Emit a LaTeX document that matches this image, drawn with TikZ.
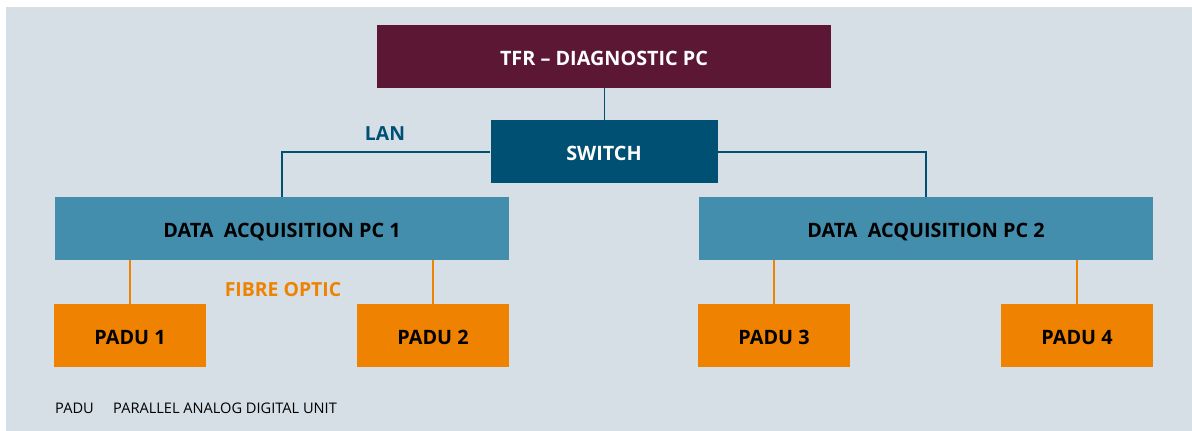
\documentclass[tikz,border=0pt]{standalone}
\usepackage{fontspec}
\setmainfont{Open Sans}
\usetikzlibrary{positioning}

\definecolor{bgpanel}{HTML}{D6DFE6}
\definecolor{tfrred}{HTML}{5C1735}
\definecolor{switchblue}{HTML}{005073}
\definecolor{daqblue}{HTML}{438DAD}
\definecolor{paduorange}{HTML}{EF8200}

\tikzset{
	box/.style={rectangle, minimum height=63pt, inner sep=0pt, text height=18pt, text depth=0pt, font=\fontsize{19.8}{22}\selectfont\bfseries},
	tfrbox/.style={box, fill=tfrred, text=white, minimum width=454pt},
	switchbox/.style={box, fill=switchblue, text=white, minimum width=227pt},
	daqbox/.style={box, fill=daqblue, text=black, minimum width=454pt},
	padubox/.style={box, fill=paduorange, text=black, minimum width=152pt},
	lan/.style={draw=switchblue, line width=1.4pt},
	fibre/.style={draw=paduorange, line width=1.4pt},
	linklabel/.style={font=\fontsize{19.4}{22}\selectfont\bfseries},
	note/.style={font=\fontsize{14.6}{16}\selectfont, anchor=base west, inner sep=0pt}
}

\begin{document}
\begin{tikzpicture}[x=1pt, y=-1pt]
		\useasboundingbox (0,0) rectangle (1192,431) ;
		\fill[bgpanel] (6,7) rectangle (1192,431) ;

		\node[tfrbox] (tfr) at (604,56.5) {TFR -- DIAGNOSTIC PC} ;
		\node[switchbox, below=32pt of tfr] (switch) {SWITCH} ;

		\node[daqbox] (daq1) at (282,228.5) {DATA\ \ ACQUISITION PC 1} ;
		\node[daqbox] (daq2) at (926,228.5) {DATA\ \ ACQUISITION PC 2} ;

		\node[padubox, below right=44pt and -1pt of daq1.south west, anchor=north west] (padu1) {PADU 1} ;
		\node[padubox, below left=44pt and 0pt of daq1.south east, anchor=north east] (padu2) {PADU 2} ;
		\node[padubox, below right=44pt and -1pt of daq2.south west, anchor=north west] (padu3) {PADU 3} ;
		\node[padubox, below left=44pt and 0pt of daq2.south east, anchor=north east] (padu4) {PADU 4} ;

		\node[linklabel, text=switchblue] (lan) at (385,134) {LAN} ;
		\node[linklabel, text=paduorange] (fibre) at (283,290) {FIBRE OPTIC} ;

		\node[note] (abbr) at (55,413) {PADU} ;
		\node[note] (abbrtext) at (113,413) {PARALLEL ANALOG DIGITAL UNIT} ;

		\draw[switchblue, line width=1pt] (tfr) -- (switch) ;
		\draw[lan] (switch.west) -| (daq1.north) ;
		\draw[lan] (switch.east) -| (daq2.north) ;

		\draw[fibre] (padu1.north) -- (padu1.north |- daq1.south) ;
		\draw[fibre] (padu2.north) -- (padu2.north |- daq1.south) ;
		\draw[fibre] (padu3.north) -- (padu3.north |- daq2.south) ;
		\draw[fibre] (padu4.north) -- (padu4.north |- daq2.south) ;
\end{tikzpicture}
\end{document}
